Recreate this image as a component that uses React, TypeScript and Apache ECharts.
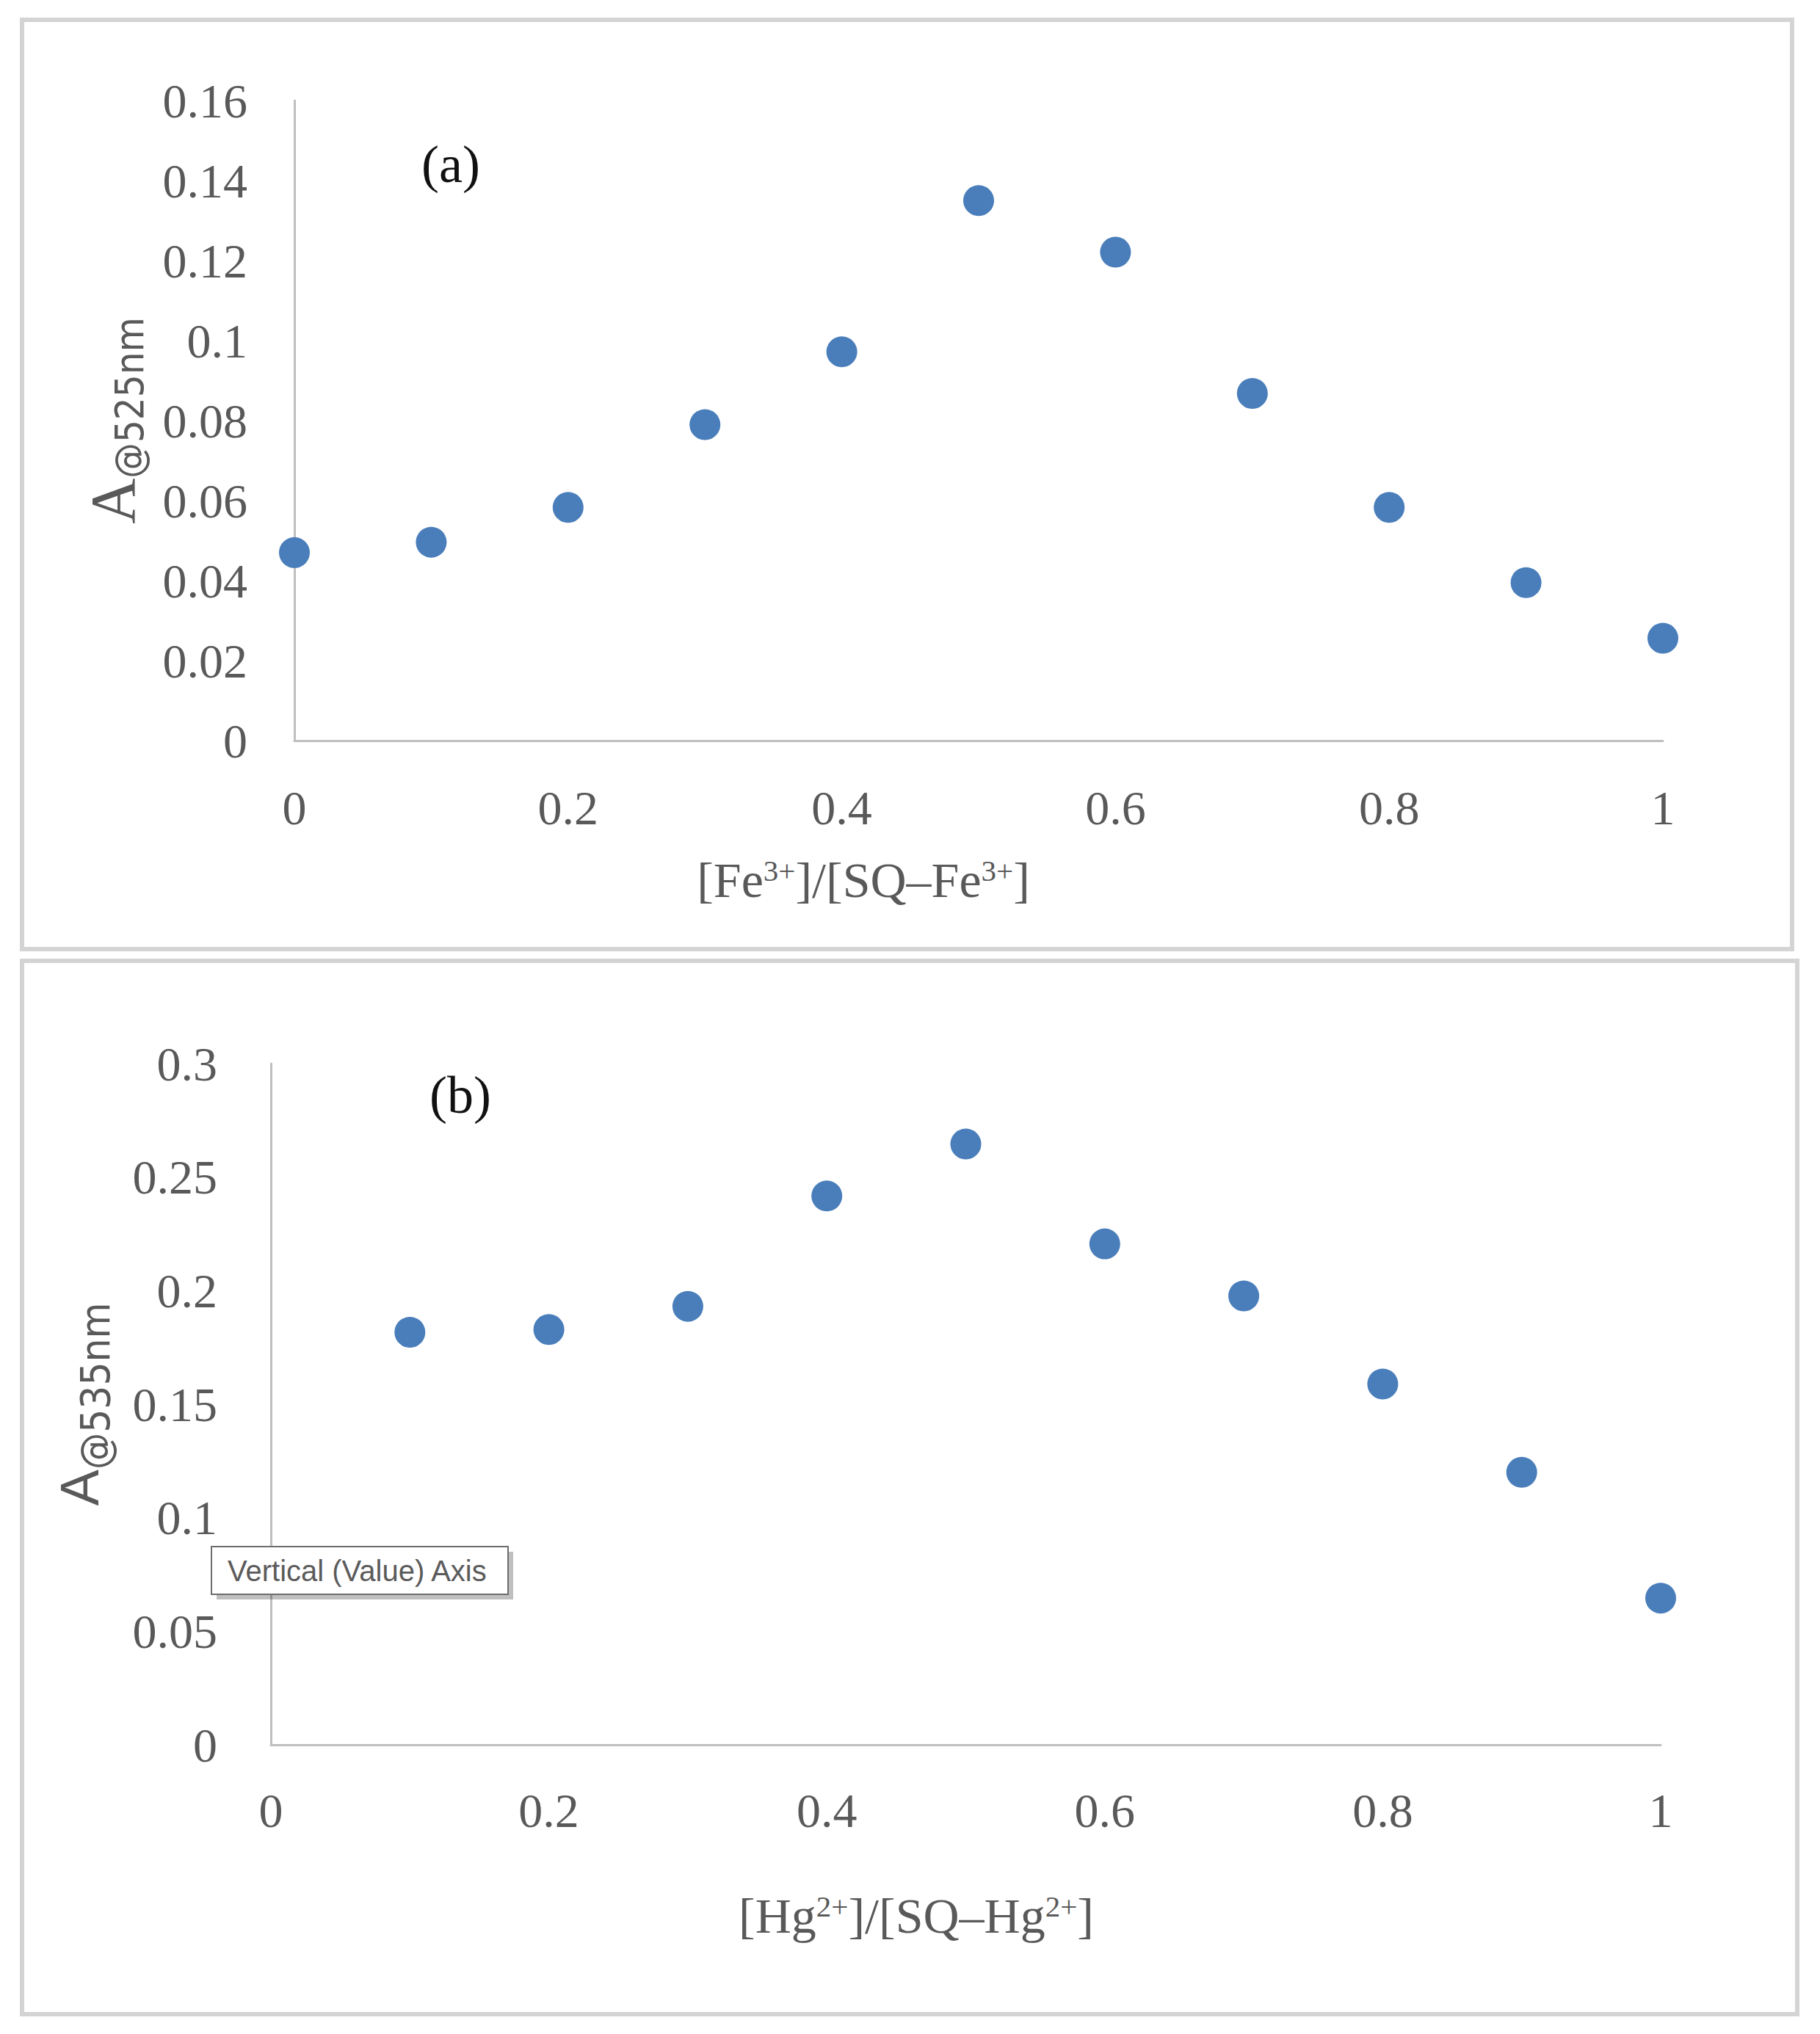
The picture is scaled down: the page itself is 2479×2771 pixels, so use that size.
import React, { useEffect, useRef } from "react";
import * as echarts from "echarts";

// Panel (a): Fe3+ Job's plot
const fractionA = [0, 0.1, 0.2, 0.3, 0.4, 0.5, 0.6, 0.7, 0.8, 0.9, 1];
const absorbanceA = [0.047, 0.0496, 0.0583, 0.079, 0.0972, 0.135, 0.1221, 0.0868, 0.0583, 0.0395, 0.0256];

// Panel (b): Hg2+ Job's plot
const fractionB = [0.1, 0.2, 0.3, 0.4, 0.5, 0.6, 0.7, 0.8, 0.9, 1];
const absorbanceB = [0.1817, 0.1829, 0.1931, 0.2417, 0.2646, 0.2206, 0.1977, 0.1589, 0.12, 0.0646];

const yMaxA = 0.16;
const yStepA = 0.02;
const yMaxB = 0.3;
const yStepB = 0.05;
const xStep = 0.2;

const panelLabels = ["(a)", "(b)"];
const tooltipText = "Vertical (Value) Axis";

const SERIF = "'Liberation Serif', 'DejaVu Serif', serif";
const SANS = "'Liberation Sans', 'DejaVu Sans', sans-serif";
const NARROW = "'Liberation Sans Narrow', 'DejaVu Sans Condensed', 'Liberation Sans', sans-serif";
const GRAY = "#595959";
const AXIS = "#bfbfbf";
const DOT = "#4a7ebb";

export default function App() {
  const ref = useRef<HTMLDivElement>(null);

  useEffect(() => {
    if (!ref.current) return;
    const chart = echarts.init(ref.current, undefined, { renderer: "svg" });

    const xRich = {
      b: { fontFamily: SERIF, fontSize: 68, lineHeight: 68, color: GRAY },
      p: { fontFamily: SERIF, fontSize: 41, lineHeight: 41, color: GRAY, verticalAlign: "top" },
    };

    const commonX = (gridIndex: number, labelMargin: number) => ({
      gridIndex,
      type: "value",
      min: 0,
      max: 1,
      interval: xStep,
      axisLine: { show: true, onZero: false, lineStyle: { color: AXIS, width: 3 } },
      axisTick: { show: false },
      splitLine: { show: false },
      axisLabel: { margin: labelMargin, fontFamily: SERIF, fontSize: 66, color: GRAY },
      nameLocation: "middle",
    });

    const commonY = (gridIndex: number, max: number, step: number, labelMargin: number) => ({
      gridIndex,
      type: "value",
      min: 0,
      max,
      interval: step,
      axisLine: { show: true, lineStyle: { color: AXIS, width: 3 } },
      axisTick: { show: false },
      splitLine: { show: false },
      axisLabel: { margin: labelMargin, fontFamily: SERIF, fontSize: 66, color: GRAY },
      nameLocation: "middle",
      nameRotate: 90,
    });

    const option: any = {
      animation: false,
      backgroundColor: "#ffffff",
      grid: [
        { left: 401, top: 137, width: 1864, height: 872 },
        { left: 369, top: 1449, width: 1893, height: 928 },
      ],
      xAxis: [
        {
          ...commonX(0, 58),
          name: "{b|[Fe}{p|3+}{b|]/[SQ–Fe}{p|3+}{b|]}",
          nameGap: 156,
          nameTextStyle: { padding: [0, 314, 0, 0], rich: xRich },
        },
        {
          ...commonX(1, 56),
          name: "{b|[Hg}{p|2+}{b|]/[SQ–Hg}{p|2+}{b|]}",
          nameGap: 199,
          nameTextStyle: { padding: [0, 135, 0, 0], rich: xRich },
        },
      ],
      yAxis: [
        {
          ...commonY(0, yMaxA, yStepA, 64),
          name: "{a|A}{s|@525nm}",
          nameGap: 195,
          nameTextStyle: {
            rich: {
              a: { fontFamily: SERIF, fontSize: 86, lineHeight: 86, color: GRAY, padding: [0, 0, 14, 0] },
              s: { fontFamily: NARROW, fontSize: 54, lineHeight: 54, color: GRAY, verticalAlign: "bottom" },
            },
          },
        },
        {
          ...commonY(1, yMaxB, yStepB, 73),
          name: "{a|A}{s|@535nm}",
          nameGap: 206,
          nameTextStyle: {
            rich: {
              a: { fontFamily: SANS, fontSize: 74, lineHeight: 74, color: GRAY, padding: [0, 0, 24, 0] },
              s: { fontFamily: NARROW, fontSize: 56, lineHeight: 56, color: GRAY, verticalAlign: "bottom" },
            },
          },
        },
      ],
      series: [
        {
          name: "Fe3+",
          type: "scatter",
          xAxisIndex: 0,
          yAxisIndex: 0,
          symbol: "circle",
          symbolSize: 42,
          itemStyle: { color: DOT, opacity: 1 },
          data: fractionA.map((x, i) => [x, absorbanceA[i]]),
        },
        {
          name: "Hg2+",
          type: "scatter",
          xAxisIndex: 1,
          yAxisIndex: 1,
          symbol: "circle",
          symbolSize: 42,
          itemStyle: { color: DOT, opacity: 1 },
          data: fractionB.map((x, i) => [x, absorbanceB[i]]),
        },
      ],
      graphic: [
        {
          type: "rect",
          z: -1,
          shape: { x: 30, y: 27, width: 2411, height: 1266 },
          style: { fill: "none", stroke: "#d4d4d4", lineWidth: 6 },
        },
        {
          type: "rect",
          z: -1,
          shape: { x: 30, y: 1309, width: 2418, height: 1435 },
          style: { fill: "none", stroke: "#d4d4d4", lineWidth: 6 },
        },
        {
          type: "text",
          x: 614,
          y: 224,
          style: { text: panelLabels[0], fontFamily: SERIF, fontSize: 72, fill: "#111", align: "center", verticalAlign: "middle" },
        },
        {
          type: "text",
          x: 627,
          y: 1492,
          style: { text: panelLabels[1], fontFamily: SERIF, fontSize: 72, fill: "#111", align: "center", verticalAlign: "middle" },
        },
        {
          type: "group",
          z: 100,
          children: [
            {
              type: "rect",
              z: 100,
              shape: { x: 295, y: 2114, width: 404, height: 65 },
              style: { fill: "rgba(0,0,0,0.25)" },
            },
            {
              type: "rect",
              z: 101,
              shape: { x: 288, y: 2107, width: 404, height: 65 },
              style: { fill: "#ffffff", stroke: "#6d6d6d", lineWidth: 2 },
            },
            {
              type: "text",
              z: 102,
              x: 310,
              y: 2140,
              style: { text: tooltipText, fontFamily: SANS, fontSize: 40, fill: "#5b5b5b", verticalAlign: "middle" },
            },
          ],
        },
      ],
    };

    chart.setOption(option);
    return () => chart.dispose();
  }, []);

  return (
    <div
      ref={ref}
      style={{ position: "absolute", left: 0, top: 0, width: 2479, height: 2771, background: "#fff" }}
    />
  );
}
